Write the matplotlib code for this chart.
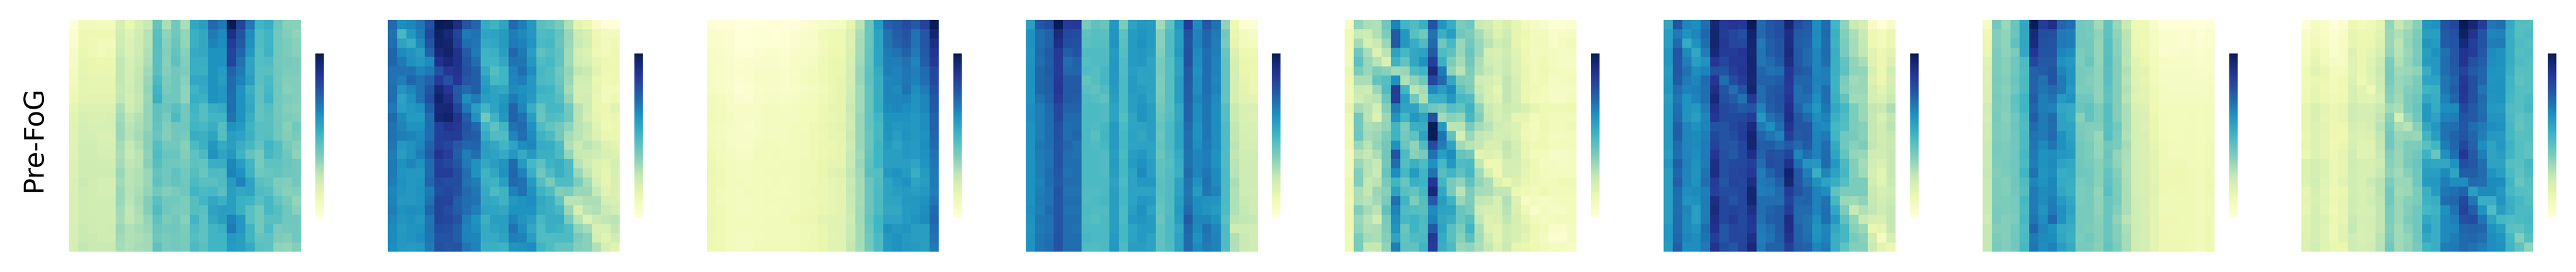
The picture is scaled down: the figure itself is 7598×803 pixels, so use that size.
#!/usr/bin/env python
import matplotlib
matplotlib.use("Agg")
import matplotlib.pyplot as plt
import numpy as np

# cell values, in percent of each panel's own range
panel_1 = [
    [0,10,10,9,9,20,14,20,24,43,30,40,30,55,58,72,68,100,83,68,50,53,42,36,36],
    [3,12,12,11,11,22,17,22,28,45,35,41,34,52,55,68,64,91,78,63,47,50,41,37,35],
    [4,12,11,10,10,23,18,23,28,46,36,42,34,52,55,66,63,85,76,62,47,50,41,38,36],
    [6,14,11,10,11,24,18,23,29,45,37,43,36,54,55,62,62,83,73,60,46,51,41,38,36],
    [7,15,14,13,13,26,20,24,30,45,36,44,37,53,53,62,62,83,70,56,46,47,40,39,38],
    [9,15,14,14,14,26,21,25,32,45,37,41,38,53,52,62,59,74,68,56,45,45,41,38,38],
    [10,16,15,15,15,26,21,26,33,48,38,41,36,55,55,62,58,72,66,58,45,48,40,37,37],
    [11,16,15,15,15,25,22,26,34,50,39,41,35,51,54,62,60,72,62,52,44,49,41,36,37],
    [12,16,16,16,16,26,21,25,33,52,41,41,35,53,52,62,60,71,62,54,44,50,41,38,37],
    [15,18,18,18,18,30,22,26,34,44,42,45,40,50,46,53,54,71,62,55,43,46,40,37,36],
    [16,20,19,19,20,32,26,29,34,44,39,48,40,49,46,50,50,70,62,53,43,45,40,38,37],
    [17,21,20,20,20,33,27,30,34,43,37,41,41,50,49,53,46,62,59,51,45,45,41,36,40],
    [17,21,21,19,19,33,28,31,36,42,37,41,39,53,52,56,46,58,57,52,45,46,41,37,39],
    [17,22,22,20,20,31,25,29,36,46,40,40,36,48,52,60,54,58,53,49,43,50,46,39,36],
    [17,22,22,21,21,30,24,27,35,47,42,42,37,44,48,62,56,60,51,43,39,49,46,41,35],
    [18,23,23,22,22,31,26,28,36,46,41,41,39,44,43,53,53,65,58,50,39,44,44,42,40],
    [18,23,23,23,23,33,27,29,33,43,41,44,40,46,42,48,47,66,62,51,41,42,43,41,40],
    [19,24,22,21,21,32,27,29,33,44,41,43,41,48,45,45,47,59,66,57,45,43,38,37,40],
    [19,23,22,21,21,33,28,30,34,40,37,39,41,50,48,49,45,58,55,56,47,46,39,36,37],
    [19,23,22,22,22,33,27,31,37,45,40,40,38,46,50,55,52,58,52,51,45,49,43,39,34],
    [19,23,22,22,22,32,26,30,37,47,41,39,38,46,45,57,58,58,52,45,40,49,46,41,36],
    [19,23,23,22,22,31,26,29,34,44,38,40,36,50,44,55,58,66,60,45,40,45,45,41,41],
    [20,24,23,22,23,33,29,31,33,42,40,41,38,47,44,50,52,68,60,50,40,47,39,40,40],
    [20,24,24,23,23,32,29,30,32,41,39,40,39,46,44,50,50,60,58,50,43,44,38,37,41],
    [21,26,24,24,24,31,29,31,32,44,39,40,39,48,45,50,50,59,58,54,45,44,35,34,37],
]
panel_2 = [
    [72,63,65,69,79,100,99,91,78,73,54,51,56,72,67,60,45,43,39,29,16,13,5,0,1],
    [70,49,60,67,81,97,93,83,68,70,56,57,59,67,64,60,47,48,43,33,23,20,12,9,9],
    [71,57,53,64,78,96,95,84,71,69,54,55,59,68,66,61,48,49,42,33,24,21,13,10,11],
    [73,64,61,58,74,93,96,89,76,68,51,52,58,73,68,58,44,47,44,32,21,18,11,10,12],
    [73,68,62,60,64,89,93,89,78,71,50,50,55,70,69,60,47,49,44,32,22,20,15,12,12],
    [70,70,70,65,68,79,86,88,79,75,54,46,50,66,71,63,49,47,41,34,26,24,17,12,12],
    [70,67,73,70,74,85,79,87,77,75,58,49,50,65,67,60,48,47,42,33,22,22,14,11,12],
    [71,61,65,70,78,93,87,76,72,75,60,56,55,64,62,60,51,50,44,31,21,21,15,10,10],
    [71,57,62,70,80,96,91,77,63,68,58,57,60,68,63,59,49,49,46,34,21,22,14,10,12],
    [68,58,60,62,75,93,94,83,68,58,50,56,62,74,65,53,43,49,49,40,28,22,14,13,17],
    [72,64,59,59,71,94,96,88,75,62,41,51,60,74,70,58,42,47,46,41,27,21,15,12,14],
    [70,65,62,62,71,84,88,86,78,73,50,44,50,70,72,62,47,43,40,35,28,25,17,11,13],
    [70,67,66,64,71,84,85,85,77,75,54,47,47,65,71,64,51,48,40,31,27,24,18,14,14],
    [69,60,62,65,74,84,82,76,73,74,58,55,50,56,63,65,54,53,47,29,24,27,24,18,16],
    [67,58,62,67,75,88,84,75,67,71,58,57,54,60,54,59,52,52,48,34,25,24,22,19,18],
    [68,62,65,62,72,84,81,77,68,62,55,58,61,72,59,49,44,51,53,47,28,23,18,17,21],
    [68,61,60,60,72,85,85,80,71,62,51,55,62,73,66,53,40,47,52,48,33,26,18,15,20],
    [67,62,60,61,73,81,80,80,70,67,52,51,58,72,70,59,46,39,47,47,38,31,21,15,19],
    [65,61,60,62,68,80,81,79,72,69,54,48,51,66,70,62,51,47,37,38,33,33,25,17,19],
    [66,60,60,61,70,83,83,75,71,70,55,54,51,60,62,63,55,52,43,27,27,30,30,21,20],
    [67,62,63,62,73,83,80,75,71,67,57,56,55,62,62,62,54,52,49,33,20,28,29,24,22],
    [65,61,62,60,69,83,81,78,67,62,52,58,58,66,61,58,49,53,53,39,28,18,24,26,27],
    [64,59,61,62,70,80,79,75,66,63,54,56,58,70,63,55,47,52,51,47,35,31,19,20,26],
    [64,60,61,63,69,78,78,75,66,65,54,54,57,67,66,58,47,47,48,48,39,36,21,17,23],
    [63,60,59,60,68,79,77,78,69,66,52,52,51,61,62,63,50,47,43,43,37,36,29,21,17],
]
panel_3 = [
    [2,1,1,0,0,0,1,1,0,1,3,4,6,7,8,15,27,42,59,74,76,80,76,83,100],
    [4,4,3,1,1,2,2,1,2,3,5,6,10,11,11,18,30,42,57,70,75,78,70,77,95],
    [4,4,3,1,1,2,2,2,2,3,5,5,9,11,11,18,31,42,57,70,74,77,70,77,91],
    [6,5,4,2,2,3,4,4,3,5,6,7,10,12,12,19,31,43,56,68,70,74,68,76,88],
    [6,6,5,3,4,5,5,5,4,6,7,8,11,14,14,20,32,43,56,67,67,70,65,75,86],
    [7,6,5,4,4,6,6,6,5,6,8,9,11,14,14,21,33,44,54,67,66,69,67,72,82],
    [7,6,5,3,4,6,6,6,5,7,8,9,11,14,15,21,33,44,53,65,66,69,66,71,81],
    [7,6,5,2,3,5,6,6,5,6,7,8,10,13,15,22,32,43,53,65,64,70,63,68,79],
    [9,8,6,4,3,6,7,7,6,7,8,9,11,14,15,23,32,43,53,65,65,66,62,65,77],
    [10,9,7,6,6,7,8,8,7,8,9,10,12,15,15,24,32,43,53,64,65,63,61,65,76],
    [10,9,8,6,6,7,8,8,8,8,9,10,12,14,15,23,33,43,50,62,62,62,60,63,74],
    [9,8,7,6,5,7,8,8,8,9,9,11,13,15,16,23,33,43,49,62,60,61,60,63,74],
    [9,8,7,6,6,7,8,8,8,9,10,11,12,15,15,24,33,42,49,61,58,62,60,62,73],
    [10,9,7,6,6,8,9,9,8,9,10,11,13,13,15,23,33,42,50,59,57,60,59,63,72],
    [11,9,8,7,7,9,9,10,9,9,10,11,12,14,15,24,32,43,50,58,58,60,59,62,70],
    [12,10,9,8,8,9,9,9,10,10,11,12,14,15,15,24,33,44,50,58,58,58,56,61,69],
    [13,11,9,8,8,9,10,10,10,10,11,12,14,17,18,26,32,45,46,60,62,59,53,59,68],
    [12,11,9,9,8,9,9,10,9,10,11,12,13,15,16,24,31,42,47,57,60,62,56,58,68],
    [12,10,9,8,9,9,10,9,9,10,11,13,13,15,16,25,31,42,48,57,58,59,58,60,67],
    [12,10,9,8,8,9,10,10,10,10,11,12,13,15,16,24,31,42,48,56,56,60,60,62,69],
    [12,11,9,8,8,9,9,9,10,10,11,12,14,15,16,24,32,42,48,55,55,59,60,63,72],
    [13,11,10,9,9,9,10,10,10,11,12,13,16,17,17,23,32,43,50,57,57,59,61,64,73],
    [13,11,10,9,9,10,10,10,10,10,11,12,14,17,17,24,31,42,50,62,60,61,58,58,71],
    [12,11,9,8,8,9,10,10,10,10,11,13,14,16,17,24,31,41,48,60,62,59,58,58,70],
    [12,11,9,8,8,10,10,10,10,10,11,12,14,17,17,25,31,40,48,60,62,60,59,58,68],
]
panel_4 = [
    [58,77,80,100,85,86,39,44,42,60,38,57,60,59,32,44,60,85,64,77,70,35,12,3,2],
    [62,71,74,92,81,80,44,46,45,61,44,59,61,59,36,47,58,79,66,73,68,40,14,9,7],
    [62,71,74,90,80,79,45,46,46,61,45,59,62,59,36,47,58,78,66,73,67,39,15,9,8],
    [61,72,76,86,75,78,47,47,47,59,46,59,60,58,37,47,59,79,64,71,67,42,18,12,11],
    [62,71,75,85,71,74,46,47,47,60,47,59,60,56,39,46,57,79,63,71,66,43,20,14,13],
    [62,73,76,85,73,73,47,46,49,60,47,58,57,57,39,46,57,76,62,71,66,43,21,14,13],
    [62,73,75,86,76,76,43,46,49,60,48,59,56,57,38,46,58,76,63,71,65,43,21,15,13],
    [62,73,75,87,76,76,45,44,47,59,48,59,58,57,38,46,58,75,63,71,66,43,21,16,13],
    [62,70,74,85,76,75,47,46,44,58,48,58,60,56,39,46,58,75,65,70,64,43,21,17,16],
    [63,67,72,81,74,74,48,48,47,57,48,58,61,58,40,45,55,74,63,69,63,46,24,19,19],
    [63,67,71,81,72,72,48,48,47,57,46,56,61,58,42,46,55,74,63,69,63,46,24,19,18],
    [62,67,71,79,71,72,48,47,49,59,48,56,57,58,43,48,56,72,62,69,63,47,26,20,20],
    [62,67,71,79,71,73,48,45,50,59,49,57,55,58,42,48,56,71,62,69,63,47,26,21,20],
    [62,69,71,78,73,70,48,47,49,59,49,56,57,57,43,48,56,71,63,68,63,47,27,21,21],
    [62,68,70,78,71,70,48,48,47,58,48,58,60,57,42,47,54,70,65,67,62,47,26,22,22],
    [62,67,70,78,71,71,48,48,47,59,49,59,62,58,44,46,53,70,65,67,62,47,27,23,23],
    [62,67,71,77,70,71,48,48,47,58,49,57,64,58,44,47,52,72,65,69,64,48,28,23,23],
    [62,66,71,76,71,71,48,48,48,57,48,57,60,60,45,47,56,70,62,70,64,48,30,23,23],
    [62,67,70,78,70,70,47,47,48,58,49,57,57,57,45,47,57,69,59,69,66,48,29,23,22],
    [62,68,70,77,71,71,47,48,49,58,49,57,60,59,44,47,58,70,63,62,61,48,29,24,23],
    [63,67,72,77,70,70,48,47,47,58,48,58,62,57,43,47,59,72,63,61,59,47,29,25,23],
    [62,69,70,77,71,71,47,46,48,58,48,60,61,59,42,48,58,76,65,65,62,45,27,26,25],
    [61,68,70,77,71,70,48,48,48,58,49,56,59,59,44,48,55,73,64,70,65,47,23,23,22],
    [62,69,71,78,71,71,49,48,48,59,49,57,59,57,44,48,57,72,62,69,66,47,29,24,22],
    [62,69,71,78,71,71,47,47,48,60,48,58,58,57,44,47,57,72,64,68,66,47,29,24,23],
]
panel_5 = [
    [6,34,30,29,41,66,50,47,52,78,61,53,38,41,24,22,16,20,15,10,7,5,2,2,3],
    [11,24,23,29,38,76,60,45,41,70,52,58,41,38,31,25,18,23,15,12,9,9,5,6,8],
    [11,31,20,24,33,76,60,53,47,72,41,49,33,40,33,27,22,24,15,11,10,10,6,8,10],
    [10,40,30,18,27,57,49,55,57,76,47,44,33,42,33,21,19,23,17,12,9,9,8,7,8],
    [10,44,33,28,19,51,43,55,62,84,52,38,31,41,30,22,21,24,18,12,10,11,8,7,7],
    [14,38,33,38,36,32,33,47,50,92,68,35,27,38,29,25,21,24,18,14,10,12,9,8,8],
    [12,30,30,43,46,62,29,35,41,82,72,55,38,37,23,21,18,26,20,14,10,11,7,8,9],
    [11,24,23,33,47,85,50,27,31,64,58,64,44,38,25,20,15,26,21,13,11,9,7,7,8],
    [11,23,26,28,42,84,58,40,29,52,52,60,49,47,28,20,17,26,21,13,10,9,7,7,9],
    [15,31,28,21,37,67,56,56,45,41,38,46,43,51,35,24,20,24,22,19,15,11,11,11,12],
    [12,40,27,18,33,61,50,60,56,79,32,36,34,49,37,25,20,23,15,15,10,11,10,10,10],
    [11,40,30,31,34,50,38,52,53,100,60,27,27,39,31,28,22,21,18,12,9,12,10,10,11],
    [11,41,31,33,38,51,40,44,57,99,70,44,21,33,26,24,21,22,18,11,10,11,8,8,9],
    [12,33,27,34,40,62,42,35,47,80,67,56,32,28,25,20,20,26,21,14,11,11,9,9,9],
    [9,28,25,30,41,78,48,36,39,70,58,63,43,40,16,18,16,25,22,14,9,9,6,7,8],
    [10,33,28,25,40,71,46,52,47,62,49,60,47,48,26,12,13,21,21,16,11,8,8,7,8],
    [10,37,28,24,43,63,49,59,50,70,46,50,44,49,32,20,12,21,20,15,11,9,8,8,8],
    [13,37,25,27,39,50,42,52,51,87,50,39,35,44,34,30,18,14,18,14,11,10,10,11,11],
    [13,30,25,33,36,57,45,43,49,93,55,39,27,38,31,30,26,26,13,11,10,12,10,10,10],
    [11,30,28,32,39,71,50,38,46,76,58,51,33,38,26,25,20,29,18,6,9,7,8,9,9],
    [12,37,31,27,44,66,47,46,45,64,57,56,42,39,23,21,19,28,19,11,5,8,7,7,9],
    [13,33,28,22,39,63,49,51,48,66,55,53,42,46,26,18,19,26,21,15,10,8,9,10,9],
    [12,34,29,30,38,61,42,50,47,76,56,45,38,50,30,18,16,23,20,18,12,10,5,5,8],
    [11,38,31,30,37,56,43,47,48,86,54,45,36,45,31,22,16,23,20,16,11,8,3,3,8],
    [11,38,25,25,35,67,44,44,50,85,53,48,33,35,30,25,18,24,15,14,12,10,8,8,6],
]
panel_6 = [
    [55,78,65,63,71,94,86,87,86,100,72,77,79,94,80,76,63,71,50,35,24,21,6,1,5],
    [58,68,62,65,73,95,85,82,79,96,72,77,80,90,76,75,64,72,52,37,30,24,12,9,14],
    [58,72,54,62,71,95,86,82,81,95,68,75,78,91,75,74,63,71,51,38,31,25,12,9,13],
    [60,78,64,55,67,93,85,85,87,94,69,75,78,92,76,72,65,72,53,39,31,26,16,12,16],
    [60,77,67,58,62,87,82,86,86,95,69,72,76,91,76,72,65,71,52,43,34,30,17,13,18],
    [58,77,70,63,66,79,78,84,87,95,73,70,71,87,77,75,65,67,52,44,35,34,20,13,22],
    [59,76,68,65,72,87,71,80,85,94,74,74,75,86,73,73,66,67,51,38,32,33,18,13,21],
    [60,71,66,67,71,90,78,71,78,95,71,76,78,85,71,74,65,71,51,37,33,33,21,16,22],
    [58,69,62,66,71,93,79,75,70,86,71,76,79,87,71,71,63,71,52,43,32,32,21,19,24],
    [59,71,62,60,68,89,81,79,76,78,66,75,78,89,73,67,60,69,55,49,38,33,26,24,30],
    [59,72,61,58,65,87,81,81,82,85,60,70,74,90,77,72,63,66,52,47,38,33,25,20,26],
    [59,75,65,62,66,78,78,82,84,92,68,63,71,88,77,77,65,64,49,46,38,36,25,22,27],
    [59,75,65,64,67,81,78,80,85,95,73,69,66,84,76,77,66,68,50,41,39,36,25,22,25],
    [59,72,65,64,68,83,78,77,82,95,75,75,72,76,72,76,66,71,54,41,36,38,26,23,24],
    [58,71,65,63,68,87,79,76,81,90,74,79,78,83,65,71,66,72,56,43,34,33,23,22,25],
    [60,75,66,62,68,90,79,81,81,84,71,80,79,89,71,61,60,72,60,48,37,31,22,19,25],
    [58,73,65,61,70,91,79,82,83,86,67,74,79,96,77,67,52,65,57,49,37,32,20,16,25],
    [58,75,65,62,71,85,77,83,82,91,68,70,75,94,77,70,62,57,53,46,38,38,22,17,24],
    [58,72,63,64,67,84,80,80,82,95,67,68,72,85,78,74,66,63,44,38,38,38,24,21,23],
    [58,71,61,62,68,91,82,78,82,95,71,71,71,83,73,74,66,70,49,33,32,35,25,22,24],
    [58,71,65,58,68,92,82,83,82,90,71,74,76,85,72,72,66,71,55,38,24,29,26,23,26],
    [58,72,64,58,68,90,82,85,81,87,70,75,76,91,72,70,63,71,60,44,34,24,21,20,26],
    [60,72,64,61,71,89,77,82,81,86,68,71,76,90,74,70,61,65,55,49,36,33,14,15,25],
    [60,73,65,63,70,84,77,82,82,90,67,70,75,88,74,71,62,66,53,49,39,36,22,8,21],
    [59,75,63,63,68,88,80,77,83,93,68,74,74,84,75,74,65,68,53,44,37,37,24,16,13],
]
panel_7 = [
    [7,40,33,42,55,100,85,90,73,71,40,39,32,44,33,24,11,11,5,1,1,1,1,0,1],
    [12,37,35,42,55,93,80,79,68,67,40,39,35,44,35,27,13,12,8,4,4,3,4,2,4],
    [13,37,35,44,55,92,79,78,68,67,40,40,34,45,36,27,14,11,8,4,4,3,4,3,4],
    [14,38,35,38,55,87,78,78,65,63,38,40,34,45,36,28,14,12,8,3,4,5,5,4,5],
    [17,38,36,41,48,82,76,76,62,60,38,42,34,46,37,27,16,14,9,6,6,6,6,5,6],
    [18,38,36,41,47,74,75,78,65,61,39,38,35,45,37,29,17,16,10,7,7,7,7,6,6],
    [18,39,37,42,48,74,70,78,68,61,39,37,35,45,37,28,17,15,10,7,7,7,7,7,7],
    [19,38,36,41,48,74,69,72,68,60,38,38,35,44,37,29,18,16,11,8,7,7,7,7,8],
    [19,39,37,44,50,75,67,70,59,62,41,41,35,43,37,28,17,16,11,8,8,8,8,8,8],
    [22,38,37,43,50,73,67,66,55,54,42,44,38,46,37,30,19,18,12,9,9,9,9,9,10],
    [21,39,36,41,48,75,68,72,57,54,36,43,38,46,37,30,20,19,14,10,9,9,10,9,10],
    [23,38,37,42,47,72,68,71,57,56,38,37,37,45,40,30,20,18,14,10,9,10,10,9,10],
    [23,38,37,41,48,70,68,72,62,57,39,37,33,46,39,29,20,19,14,10,9,10,10,9,10],
    [24,39,38,41,48,69,64,69,62,58,40,38,34,41,38,31,20,19,15,11,10,10,10,9,11],
    [24,39,38,41,49,68,62,63,60,59,40,38,34,42,34,30,20,19,16,11,10,10,10,9,11],
    [24,38,39,41,48,67,62,64,57,55,41,39,36,41,35,29,21,20,16,11,11,11,10,10,11],
    [25,37,38,41,50,70,61,63,53,54,41,40,36,43,37,29,21,20,16,12,12,12,11,10,12],
    [24,38,37,41,47,65,62,65,54,53,39,40,36,44,38,30,21,20,17,12,12,12,11,10,13],
    [24,38,37,40,46,68,64,65,55,52,38,39,34,45,38,30,21,20,17,12,11,12,11,10,12],
    [24,38,38,39,49,68,63,67,59,55,38,39,35,42,39,30,22,21,16,11,11,11,11,10,11],
    [24,39,38,39,48,68,61,68,62,57,39,39,35,42,37,30,22,20,16,11,11,11,11,10,11],
    [23,39,37,38,49,69,63,73,62,55,39,39,36,42,35,27,22,21,16,12,12,11,11,10,12],
    [25,37,37,40,47,73,65,62,54,53,39,38,37,42,37,30,23,21,16,12,11,11,11,10,12],
    [25,38,37,41,48,68,64,63,55,52,38,40,37,42,37,31,22,21,16,12,12,12,11,10,12],
    [25,39,37,40,49,69,63,66,58,54,39,39,36,43,38,31,22,21,16,12,12,12,11,10,12],
]
panel_8 = [
    [1,8,5,0,3,12,9,11,15,34,25,30,36,60,62,78,82,100,94,85,69,71,54,46,46],
    [5,9,6,3,6,15,12,13,17,33,29,33,38,58,58,76,79,97,88,78,65,66,53,46,47],
    [6,10,7,4,7,15,13,13,18,33,27,34,39,61,59,76,78,93,84,78,67,68,53,47,46],
    [7,13,9,4,7,18,14,15,20,34,28,33,38,58,62,70,77,88,85,77,64,62,53,46,47],
    [9,15,10,7,7,17,14,17,23,38,29,34,39,59,60,71,77,88,79,75,63,62,53,47,46],
    [11,17,14,9,9,17,14,18,24,39,32,33,35,53,60,71,76,83,76,73,62,61,52,45,46],
    [11,14,13,10,11,18,12,17,23,39,33,35,38,56,57,69,74,86,79,73,61,62,50,44,46],
    [11,15,12,10,11,20,16,11,22,37,33,37,39,50,52,69,75,87,79,69,62,62,50,46,46],
    [12,15,13,11,12,20,17,16,20,36,32,38,41,55,53,66,73,86,79,72,61,62,49,46,48],
    [15,19,16,13,15,23,21,21,24,32,30,38,42,60,54,63,64,81,76,71,60,59,47,46,49],
    [15,19,15,13,15,23,21,21,26,36,21,34,41,60,57,66,67,78,76,72,61,61,48,44,46],
    [15,18,16,12,12,21,19,21,28,38,30,28,36,55,60,70,71,77,71,68,63,62,49,43,46],
    [14,18,15,12,12,19,18,19,26,40,33,34,33,50,58,70,74,78,73,67,60,59,49,45,46],
    [15,18,15,11,14,20,17,17,25,40,34,38,38,45,50,67,73,82,74,63,56,60,51,46,44],
    [13,18,15,12,15,22,17,17,24,37,33,38,40,51,42,62,71,87,76,67,56,58,50,46,44],
    [18,21,18,13,15,23,20,20,23,36,33,39,42,57,55,55,62,80,77,71,57,57,46,45,49],
    [18,21,18,13,15,22,20,20,25,35,32,36,41,58,58,64,56,75,75,72,62,58,48,44,48],
    [18,22,17,13,17,22,20,24,27,38,33,33,41,59,60,67,63,63,72,71,64,63,50,42,46],
    [15,21,16,12,14,22,20,21,27,40,32,33,38,52,59,69,71,74,58,64,64,60,49,46,45],
    [16,20,17,13,15,23,20,22,26,40,33,36,38,51,53,71,73,81,69,53,53,61,52,49,46],
    [15,21,16,11,15,23,20,20,26,38,33,37,41,49,51,62,70,83,75,62,47,58,53,48,48],
    [17,21,18,13,15,24,21,21,26,38,33,38,41,55,52,64,67,79,80,69,57,49,47,48,49],
    [17,21,17,12,17,25,20,21,26,37,32,36,41,58,53,64,65,73,74,73,62,58,45,44,48],
    [18,21,17,12,17,23,20,21,27,38,32,34,40,55,53,64,67,72,73,71,63,61,49,37,46],
    [18,22,17,14,14,23,21,22,28,40,32,35,39,50,53,67,68,72,70,67,63,62,50,44,35],
]
panels = [panel_1, panel_2, panel_3, panel_4, panel_5, panel_6, panel_7, panel_8]
row_label = "Pre-FoG"

W, H = 7599, 804
# left edges in pixels of the heatmaps and their colorbars
heat_left = [204, 1144, 2085, 3026, 3966, 4907, 5848, 6788]
cbar_left = [930, 1871, 2812, 3752, 4693, 5634, 6575, 7515]
heat_size = 684
heat_top = 60
cbar_w, cbar_top, cbar_h = 25, 159, 485

fig = plt.figure(figsize=(W/100, H/100), dpi=100, facecolor="white")

def px_axes(left, top, width, height):
    return fig.add_axes([left/W, 1-(top+height)/H, width/W, height/H])

for i, vals in enumerate(panels):
    ax = px_axes(heat_left[i], heat_top, heat_size, heat_size)
    mesh = ax.pcolormesh(np.array(vals), cmap="YlGnBu", vmin=0, vmax=100)
    ax.invert_yaxis()
    ax.axis("off")
    cax = px_axes(cbar_left[i], cbar_top, cbar_w, cbar_h)
    cb = fig.colorbar(mesh, cax=cax)
    cb.set_ticks([])
    cb.outline.set_visible(False)

fig.text(100/W, 1-411/H, row_label, rotation=90, fontsize=58, color="black",
         ha="center", va="center", family="DejaVu Sans")

fig.savefig("out.png", dpi=100, facecolor="white")
